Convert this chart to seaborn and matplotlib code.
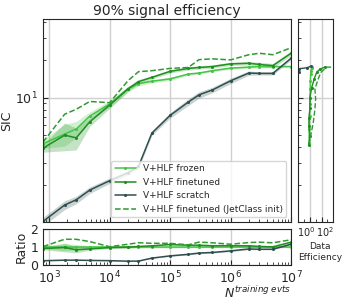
import numpy as np
import pandas as pd
import matplotlib
matplotlib.use('Agg')
import matplotlib.pyplot as plt
import matplotlib.transforms as mtransforms
from matplotlib.ticker import NullFormatter, LogLocator
import seaborn as sns

# training set sizes
n_train = [790, 1800, 2800, 4700, 1e4, 2e4, 3e4, 5e4, 1e5, 2e5, 3e5, 5e5, 1e6, 2e6, 3e6, 5e6, 1e7]

# SIC at 90% signal efficiency
sic_frozen = [4.27, 5.1, 5.6, 7.1, 8.9, 11.7, 12.9, 13.5, 14.1, 15.4, 15.7, 16.4, 17.2, 17.5, 17.7, 17.7, 17.7]
sic_finetuned = [3.93, 5.0, 4.76, 6.4, 8.7, 11.7, 13.4, 14.5, 16.2, 17.1, 17.4, 17.7, 18.6, 18.8, 18.4, 18.0, 22.6]
sic_scratch = [1.02, 1.38, 1.52, 1.82, 2.16, 2.5, 2.81, 5.2, 7.2, 9.2, 10.5, 11.5, 13.6, 15.7, 15.6, 15.6, 20.6]
sic_jetclass = [4.4, 7.35, 8.06, 9.3, 9.1, 13.6, 16.1, 16.4, 17.1, 17.4, 20.1, 20.4, 20.0, 22.0, 22.6, 22.0, 25.0]

# relative uncertainties (bands)
err_frozen = [0.08, 0.2, 0.15, 0.08, 0.06, 0.05, 0.04, 0.03, 0.03, 0.02, 0.02, 0.02, 0.02, 0.02, 0.02, 0.02, 0.02]
err_finetuned = [0.07, 0.25, 0.2, 0.08, 0.06, 0.05, 0.04, 0.03, 0.03, 0.03, 0.03, 0.03, 0.03, 0.03, 0.04, 0.04, 0.04]
err_scratch = [0.08, 0.08, 0.07, 0.06, 0.05, 0.04, 0.04, 0.04, 0.05, 0.06, 0.06, 0.05, 0.05, 0.04, 0.03, 0.03, 0.03]

# data efficiency panel
de_frozen_sic = [4.3, 5.6, 7.1, 8.9, 11.7, 13.5, 15.4, 16.4, 17.2, 17.7]
de_frozen = [0.68, 0.75, 0.85, 1.0, 1.1, 1.2, 1.3, 1.5, 2.0, 2.2]
de_finetuned_sic = [4.2, 4.9, 5.9, 6.9, 8.3, 10.0, 12.0, 14.1, 15.9, 16.9, 17.5]
de_finetuned = [0.68, 1.0, 0.68, 0.68, 1.0, 1.0, 1.95, 5.4, 14, 51, 365]
de_scratch_sic = [15.9, 17.0, 17.3, 17.8]
de_scratch = [0.012, 0.012, 0.3, 1.4]
de_jetclass_sic = [4.2, 5.1, 6.3, 8.1, 9.7, 11.7, 14.1, 15.9, 17.5, 17.5]
de_jetclass = [0.68, 1.5, 3.7, 7.1, 9.4, 7.1, 26, 76, 710, 5100]

labels = ['V+HLF frozen', 'V+HLF finetuned', 'V+HLF scratch', 'V+HLF finetuned (JetClass init)']
colors = ['#45c545', '#1f8f1f', '#2f4f4f', '#2f9a2f']

sns.set_style('ticks')
plt.rcParams['xtick.direction'] = 'in'
plt.rcParams['ytick.direction'] = 'in'

fig = plt.figure(figsize=(3.49, 3.0), dpi=100)
ax = fig.add_axes([0.1232, 0.26, 0.7106, 0.6767])
axr = fig.add_axes([0.1232, 0.1167, 0.7106, 0.119], sharex=ax)
axs = fig.add_axes([0.8547, 0.26, 0.1003, 0.6767], sharey=ax)

n = np.array(n_train)
base = np.array(sic_frozen)
series = [
    (sic_frozen, err_frozen, '-'),
    (sic_finetuned, err_finetuned, '-'),
    (sic_scratch, err_scratch, '-'),
    (sic_jetclass, None, '--'),
]

for (vals, err, ls), lab, col in zip(series, labels, colors):
    v = np.array(vals)
    df = pd.DataFrame({'N': n, 'SIC': v, 'ratio': v / base})
    sns.lineplot(data=df, x='N', y='SIC', ax=ax, color=col, linestyle=ls,
                 linewidth=1.1, marker='o' if ls == '-' else None, markersize=2.2,
                 markeredgewidth=0, label=lab, estimator=None)
    sns.lineplot(data=df, x='N', y='ratio', ax=axr, color=col, linestyle=ls,
                 linewidth=1.1, marker='o' if ls == '-' else None, markersize=2.2,
                 markeredgewidth=0, legend=False, estimator=None)
    if err is not None:
        e = np.array(err)
        ax.fill_between(n, v * (1 - e), v * (1 + e), color=col, alpha=0.25, linewidth=0)
        axr.fill_between(n, v / base * (1 - e), v / base * (1 + e), color=col, alpha=0.25, linewidth=0)

side = [(de_frozen, de_frozen_sic, '-'), (de_finetuned, de_finetuned_sic, '-'),
        (de_scratch, de_scratch_sic, '-'), (de_jetclass, de_jetclass_sic, '--')]
for (x, y, ls), col in zip(side, colors):
    d = pd.DataFrame({'de': x, 'sic': y})
    sns.lineplot(data=d, x='de', y='sic', ax=axs, color=col, linestyle=ls, sort=False,
                 estimator=None, linewidth=1.0, marker='o' if ls == '-' else None,
                 markersize=2.2, markeredgewidth=0, legend=False)

# main axes
ax.set_xscale('log')
ax.set_yscale('log')
ax.set_xlim(790, 1e7)
ax.set_ylim(1.01, 42.5)
ax.yaxis.set_minor_formatter(NullFormatter())
ax.grid(True, which='major', color='#d0d0d0', linewidth=1)
ax.set_axisbelow(True)
ax.tick_params(labelbottom=False, labelsize=9)
ax.set_xlabel('')
ax.set_ylabel('SIC', fontsize=9)
ax.yaxis.set_label_coords(-0.12, 0.5)
ax.set_title('90% signal efficiency', fontsize=10, pad=3)
ax.legend(loc='lower right', fontsize=6.5, handlelength=2.3, frameon=True,
          edgecolor='#cccccc', fancybox=True)

# ratio axes
axr.set_ylim(0, 2)
axr.set_yticks([0, 1, 2])
axr.grid(True, which='major', color='#d0d0d0', linewidth=1)
axr.set_axisbelow(True)
axr.tick_params(labelsize=9)
axr.set_ylabel('Ratio', fontsize=9, labelpad=2)
axr.set_xlabel(r'$N^{training\ evts}$', fontsize=9, loc='right', labelpad=-1)

# data efficiency axes
axs.set_xscale('log')
axs.set_xlim(1e-2, 1e4)
axs.set_xticks([1, 100])
axs.xaxis.set_minor_locator(LogLocator(base=10, subs=(1.0,), numticks=20))
axs.xaxis.set_minor_formatter(NullFormatter())
axs.grid(True, which='major', color='#d0d0d0', linewidth=1)
axs.set_axisbelow(True)
axs.tick_params(labelleft=False)
axs.tick_params(axis='x', labelsize=7, pad=2)
axs.set_ylabel('')
axs.set_xlabel('Data\nEfficiency', fontsize=6.5)
axs.xaxis.set_label_coords(0.62, -0.1, transform=axs.transAxes)
axs.xaxis.label.set_va('top')

# spread the two crowded tick labels apart a little
fig.canvas.draw()
for tick, dx in zip(axs.xaxis.get_major_ticks(), [-3.5, 3.5]):
    tick.label1.set_transform(tick.label1.get_transform()
                              + mtransforms.ScaledTranslation(dx / 100, 0, fig.dpi_scale_trans))

fig.savefig('out.png', dpi=100)
